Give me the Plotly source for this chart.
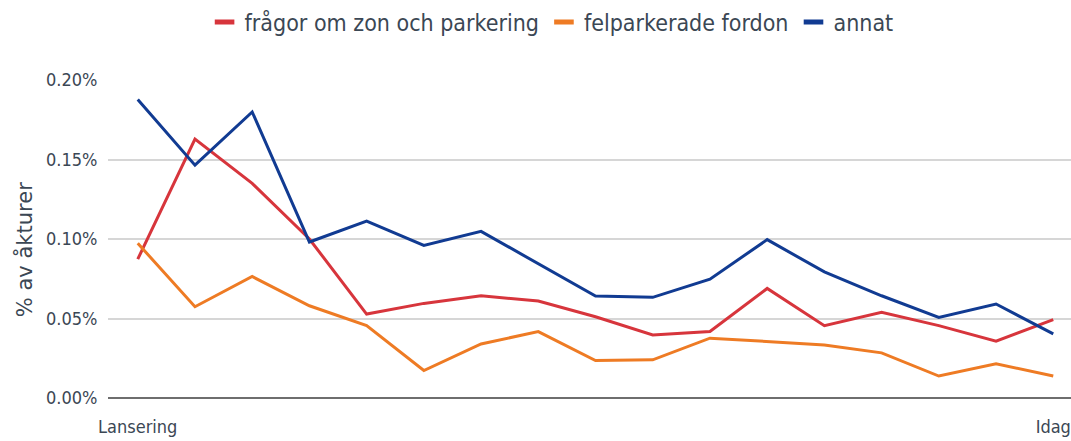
import plotly.graph_objects as go

x_idx = list(range(17))
tick_vals = [0, 16]
tick_text = ["Lansering", "Idag"]

fragor = [0.0873, 0.1628, 0.135, 0.100, 0.0528, 0.0595, 0.0643, 0.0610, 0.0511,
          0.0397, 0.0418, 0.0689, 0.0455, 0.0539, 0.0455, 0.0357, 0.0493]
felpark = [0.0973, 0.0574, 0.0764, 0.0580, 0.0455, 0.0173, 0.0340, 0.0418, 0.0236,
           0.0240, 0.0376, 0.0355, 0.0334, 0.0284, 0.0138, 0.0215, 0.0138]
annat = [0.1877, 0.1464, 0.1799, 0.0981, 0.1113, 0.0960, 0.1048, 0.0844, 0.0641,
         0.0633, 0.0747, 0.0996, 0.0793, 0.0643, 0.0507, 0.0591, 0.0403]

names = ["frågor om zon och parkering", "felparkerade fordon", "annat"]
colors = ["#d7353c", "#ee7b24", "#113b92"]
series = [fragor, felpark, annat]
y_title = "% av åkturer"

FONT = "DejaVu Sans Condensed, Liberation Sans Narrow, Roboto, sans-serif"
TXT = "#3b4754"

fig = go.Figure()
for name, col, vals in zip(names, colors, series):
    fig.add_trace(go.Scatter(x=x_idx, y=[v / 100 for v in vals], mode="lines",
                             line=dict(color=col, width=3), showlegend=False,
                             name=name))
for name, col in zip(names, colors):
    fig.add_trace(go.Scatter(x=[None], y=[None], mode="markers", name=name,
                             marker=dict(symbol="line-ew-open", size=14, color=col,
                                         line=dict(color=col, width=6))))

fig.add_annotation(text=y_title, textangle=-90, xref="paper", yref="paper",
                   x=0, y=0.465, xanchor="center", yanchor="middle", xshift=-84,
                   showarrow=False,
                   font=dict(size=21, color=TXT, family="DejaVu Sans, sans-serif"))

fig.update_layout(
    width=1071, height=441,
    margin=dict(l=108, r=0, t=80, b=43),
    paper_bgcolor="white", plot_bgcolor="white",
    font=dict(family=FONT, color=TXT, size=18),
    legend=dict(orientation="h", xref="container", yref="container",
                x=0.515, xanchor="center", y=0.95, yanchor="middle",
                font=dict(size=23, color=TXT), itemwidth=30),
    xaxis=dict(range=[-0.52, 16.31], tickvals=tick_vals, ticktext=tick_text,
               showgrid=False, zeroline=False, showline=False,
               ticks="outside", ticklen=12, tickcolor="rgba(0,0,0,0)",
               tickfont=dict(size=18, color=TXT)),
    yaxis=dict(range=[0, 0.002], dtick=0.0005, tickformat=".2%",
               showgrid=True, gridcolor="#d6d6d6", gridwidth=2,
               zeroline=True, zerolinecolor="#6e6e6e", zerolinewidth=2,
               ticks="outside", ticklen=6, tickcolor="rgba(0,0,0,0)",
               tickfont=dict(size=18, color=TXT)),
)

fig.write_html("out.html")
